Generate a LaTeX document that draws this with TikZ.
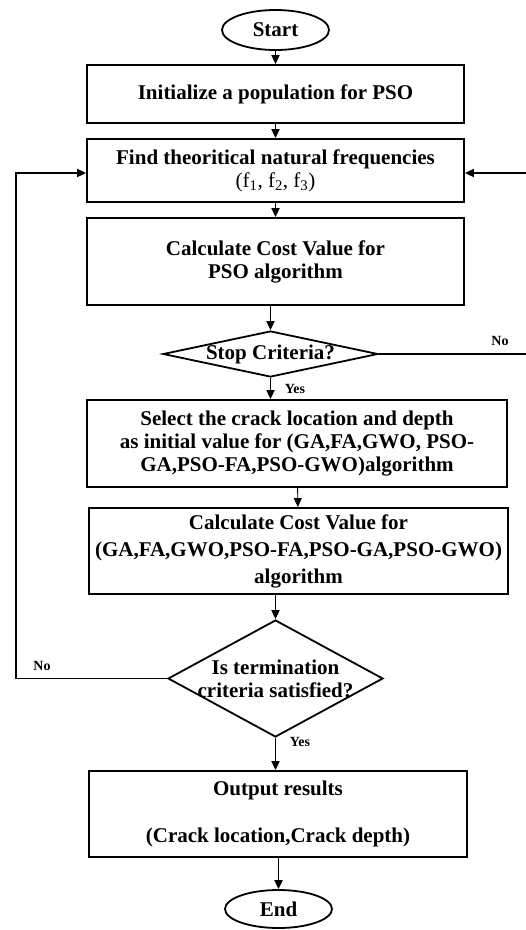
\documentclass[tikz,border=0pt]{standalone}
\usepackage{fontspec}
\setmainfont{Liberation Serif}
\usetikzlibrary{shapes.geometric,arrows.meta}

\tikzset{
  box/.style={draw, line width=1.8pt, align=center, inner sep=0pt},
  term/.style={draw, ellipse, line width=1.8pt, inner sep=0pt},
  decision/.style={draw, diamond, line width=1.8pt, inner sep=0pt},
  lbl/.style={font=\bfseries\fontsize{14}{16}\selectfont},
}

\begin{document}
\begin{tikzpicture}[x=1pt, y=-1pt,
    every node/.style={font=\bfseries\fontsize{21}{23}\selectfont},
    >={Triangle[length=9pt,width=8pt]}, line width=1.8pt]
        \useasboundingbox (0,0) rectangle (526,930);

        % main column
        \node[term, minimum width=107pt, minimum height=40pt] (start) at (275.5,30) {Start};
        \node[box, minimum width=377pt, minimum height=58pt] (init) at (275.5,94) {Initialize a population for PSO};
        \node[box, minimum width=377pt, minimum height=63pt] (find) at (275.5,170.5)
            {Find theoritical natural frequencies\\ {\mdseries (f\textsubscript{1}, f\textsubscript{2}, f\textsubscript{3})}};
        \node[box, minimum width=377pt, minimum height=87pt] (costpso) at (275.5,261.5) {Calculate Cost Value for\\ PSO algorithm};
        \node[decision, minimum width=215pt, minimum height=46pt] (stop) at (270.5,354) {};
        \node (stoptxt) at (stop) {Stop Criteria?};
        \node[box, minimum width=420pt, minimum height=87pt] (select) at (297,443.5)
            {Select the crack location and depth\\ as initial value for (GA,FA,GWO, PSO-\\ GA,PSO-FA,PSO-GWO)algorithm};
        \node[box, minimum width=419pt, minimum height=86pt] (costall) at (298.5,551)
            {Calculate Cost Value for\\[4pt] (GA,FA,GWO,PSO-FA,PSO-GA,PSO-GWO)\\[4pt] algorithm};
        \node[decision, minimum width=215pt, minimum height=117pt] (check) at (275.5,678.5) {};
        \node[align=center] (checktxt) at (check) {Is termination\\ criteria satisfied?};
        \node[box, minimum width=378pt, minimum height=86pt] (output) at (278,814)
            {Output results\\[24pt] (Crack location,Crack depth)};
        \node[term, minimum width=107pt, minimum height=38pt] (end) at (278.5,909) {End};

        % loop corners
        \coordinate (rdown) at (529,354);
        \coordinate (rup) at (529,173);
        \coordinate (ldown) at (16,678.5);
        \coordinate (lup) at (16,173);

        \draw[->] (start) -- (init);
        \draw[->] (init) -- (find);
        \draw[->] (find) -- (costpso);
        \draw[->] (costpso.south -| stop.north) -- (stop.north);
        \draw[->] (stop.south) -- (stop.south |- select.north);
        \draw[->, line width=0.9pt] (select) -- (costall);
        \draw[->] (check.north |- costall.south) -- (check.north);
        \draw[->] (check.south) -- (check.south |- output.north);
        \draw[->] (output.south -| end.north) -- (end.north);

        % loops back
        \draw[->] (stop.east) -- (rdown) -- (rup) -- (find.east |- rup);
        \draw[->] (check.west) -- (ldown) -- (lup) -- (find.west |- lup);

        % branch labels
        \node[lbl] (nostop) at (500,341) {No};
        \node[lbl] (yesstop) at (295,389) {Yes};
        \node[lbl] (nocheck) at (42,666) {No};
        \node[lbl] (yescheck) at (300,742) {Yes};

\end{tikzpicture}
\end{document}
